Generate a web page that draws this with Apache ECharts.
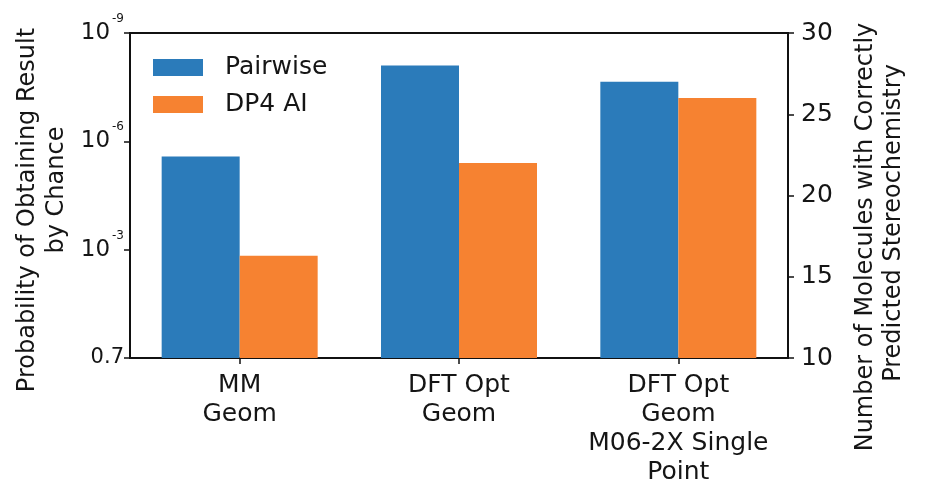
<!DOCTYPE html>
<html>
<head>
<meta charset="utf-8">
<script src="https://cdn.jsdelivr.net/npm/echarts@6/dist/echarts.min.js"></script>
<style>html,body{margin:0;padding:0;background:#fff;}#c{width:934px;height:491px;}</style>
</head>
<body>
<div id="c"></div>
<script>
var categories = ['MM\nGeom', 'DFT Opt\nGeom', 'DFT Opt\nGeom\nM06-2X Single\nPoint'];
var seriesNames = ['Pairwise', 'DP4 AI'];
var pairwise = [22.4, 28, 27];
var dp4ai = [16.3, 22, 26];
var leftTickLabels = ['0.7', '10^-3', '10^-6', '10^-9'];
var rightMin = 10, rightMax = 30, rightInterval = 5;
var leftTitle = ['Probability of Obtaining Result', 'by Chance'];
var rightTitle = ['Number of Molecules with Correctly', 'Predicted Stereochemistry'];

var FONT = 'DejaVu Sans';
var TXT = '#151515';
var chart = echarts.init(document.getElementById('c'), null, {renderer: 'canvas'});
var option = {
  animation: false,
  backgroundColor: '#fff',
  textStyle: {fontFamily: FONT, color: TXT},
  grid: {left: 130, right: 146, top: 33, bottom: 133, show: true, borderColor: '#111', borderWidth: 2, containLabel: false},
  legend: {
    orient: 'vertical', left: 148, top: 50, itemWidth: 50, itemHeight: 17, itemGap: 12,
    icon: 'rect',
    textStyle: {fontSize: 25, fontFamily: FONT, color: TXT, padding: [0, 0, 0, 17]},
    data: seriesNames
  },
  xAxis: {
    type: 'category', data: categories,
    axisLine: {show: true, lineStyle: {color: '#111', width: 2}},
    axisTick: {show: true, alignWithLabel: true, length: 6, lineStyle: {color: '#111', width: 1.5}},
    axisLabel: {fontSize: 25, lineHeight: 29, color: TXT, fontFamily: FONT, margin: 13, interval: 0}
  },
  yAxis: [
    {
      type: 'value', min: 0, max: 3, interval: 1, position: 'left',
      splitLine: {show: false},
      axisLine: {show: true, lineStyle: {color: '#111', width: 2}},
      axisTick: {show: true, length: 6, lineStyle: {color: '#111', width: 1.5}},
      axisLabel: {
        margin: 6, color: TXT, fontFamily: FONT,
        formatter: function (v) {
          var s = leftTickLabels[Math.round(v)];
          if (s.indexOf('^') >= 0) {
            var p = s.split('^');
            return '{b|' + p[0] + '}{s|' + p[1] + '}';
          }
          return '{p|' + s + '}';
        },
        rich: {
          b: {fontSize: 23, fontFamily: FONT, color: TXT, lineHeight: 40},
          p: {fontSize: 21, fontFamily: FONT, color: TXT, lineHeight: 40},
          s: {fontSize: 12, fontFamily: FONT, color: TXT, lineHeight: 12, verticalAlign: 'top', padding: [0, 0, 0, 2]}
        }
      }
    },
    {
      type: 'value', min: rightMin, max: rightMax, interval: rightInterval, position: 'right',
      splitLine: {show: false},
      axisLine: {show: true, lineStyle: {color: '#111', width: 2}},
      axisTick: {show: true, length: 6, lineStyle: {color: '#111', width: 1.5}},
      axisLabel: {fontSize: 25, color: TXT, fontFamily: FONT, margin: 13}
    }
  ],
  series: [
    {name: seriesNames[0], type: 'bar', yAxisIndex: 1, data: pairwise, barWidth: 78, barGap: '0%', itemStyle: {color: '#2b7bba'}},
    {name: seriesNames[1], type: 'bar', yAxisIndex: 1, data: dp4ai, barWidth: 78, barGap: '0%', itemStyle: {color: '#f68231'}}
  ],
  graphic: [
    {type: 'text', x: 28, y: 210, rotation: Math.PI / 2, style: {text: leftTitle[0], font: '24px "' + FONT + '"', fill: TXT, align: 'center', verticalAlign: 'middle'}},
    {type: 'text', x: 57, y: 190, rotation: Math.PI / 2, style: {text: leftTitle[1], font: '24px "' + FONT + '"', fill: TXT, align: 'center', verticalAlign: 'middle'}},
    {type: 'text', x: 866, y: 237, rotation: Math.PI / 2, style: {text: rightTitle[0], font: '24px "' + FONT + '"', fill: TXT, align: 'center', verticalAlign: 'middle'}},
    {type: 'text', x: 894, y: 223, rotation: Math.PI / 2, style: {text: rightTitle[1], font: '24px "' + FONT + '"', fill: TXT, align: 'center', verticalAlign: 'middle'}}
  ]
};
chart.setOption(option);
</script>
</body>
</html>
